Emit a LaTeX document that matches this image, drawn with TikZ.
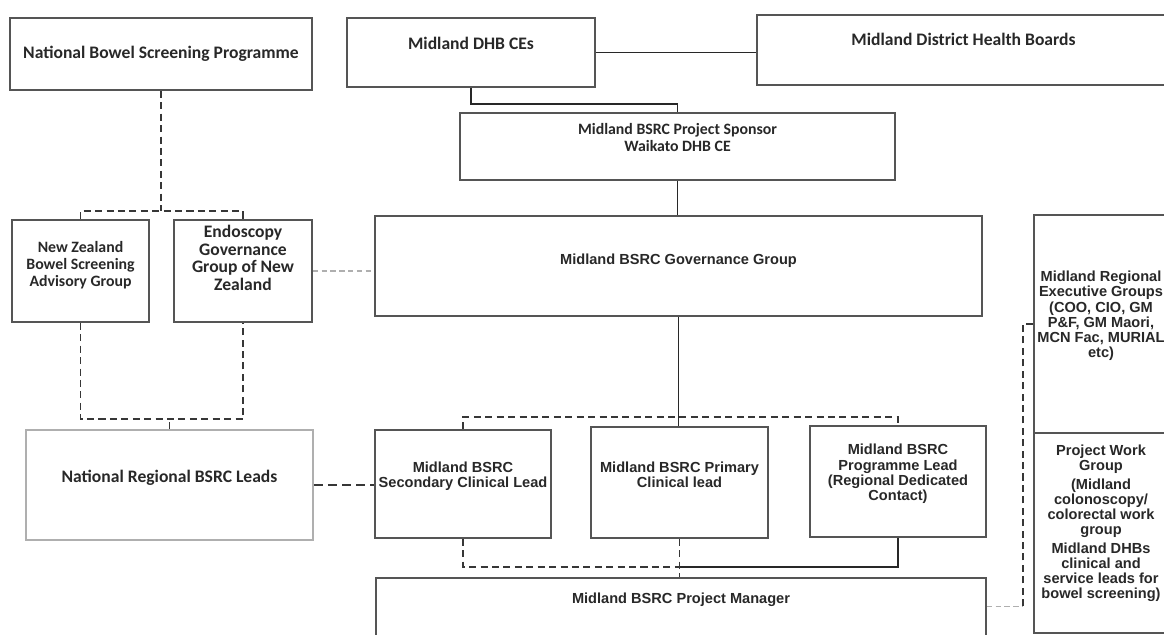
\documentclass[tikz,border=0pt]{standalone}
\usepackage{fontspec}
\setmainfont{Carlito}
\newfontfamily\arialfont{Liberation Sans}
\definecolor{inkgrey}{RGB}{40,40,40}
\definecolor{edgegrey}{RGB}{85,85,85}
\definecolor{dashgrey}{RGB}{55,55,55}
\definecolor{paleline}{RGB}{175,175,175}

\begin{document}
\begin{tikzpicture}[x=0.2mm, y=-0.2mm,
    calbox/.style={draw=edgegrey, line width=1pt, fill=white, text=inkgrey,
        align=center, inner sep=2pt, font=\bfseries\fontsize{10}{10}\selectfont},
    smallcal/.style={calbox, font=\bfseries\fontsize{9}{9.7}\selectfont},
    arialbox/.style={calbox, font=\arialfont\bfseries\fontsize{8.3}{8.6}\selectfont},
    lift/.style={text depth=#1},
    link/.style={draw=inkgrey, line width=1pt},
    dashlink/.style={draw=dashgrey, line width=1pt, dash pattern=on 4pt off 2.5pt},
    heavydash/.style={draw=dashgrey, line width=1.2pt, dash pattern=on 5pt off 3pt},
    palelink/.style={draw=paleline, line width=0.7pt, dash pattern=on 3pt off 2pt}
]
    \useasboundingbox (0,0) rectangle (1164,635);
    \clip (0,0) rectangle (1164,635);
    \fill[white] (0,0) rectangle (1164,635);

    \node[calbox, minimum width=60.4mm, minimum height=14.4mm] (nbsp) at (161,54) {National Bowel Screening Programme};
    \node[calbox, lift=10.5pt, minimum width=49.6mm, minimum height=13.8mm] (dhbce) at (471,52.5) {Midland DHB CEs};
    \node[calbox, lift=12.5pt, minimum width=82.6mm, minimum height=14mm] (mdhb) at (963.5,50) {Midland District Health Boards};
    \node[smallcal, lift=10.5pt, minimum width=87mm, minimum height=13.4mm] (sponsor) at (677.5,146.5) {Midland BSRC Project Sponsor\\Waikato DHB CE};

    \node[smallcal, lift=8.5pt, minimum width=27.4mm, minimum height=20.4mm] (nzbsag) at (80.5,271) {New Zealand\\Bowel Screening\\Advisory Group};
    \node[calbox, lift=15pt, minimum width=27.6mm, minimum height=20.4mm] (egg) at (243,271) {Endoscopy\\Governance\\Group of New\\Zealand};
    \node[arialbox, lift=8pt, minimum width=121.4mm, minimum height=20mm] (gov) at (678.5,266) {Midland BSRC Governance Group};
    \node[arialbox, lift=11pt, minimum width=26.8mm, minimum height=43.6mm] (exec) at (1101,324) {Midland Regional\\Executive Groups\\(COO, CIO, GM\\P\&F, GM Maori,\\MCN Fac, MURIAL\\etc)};
    \node[arialbox, lift=13pt, minimum width=26.8mm, minimum height=40mm] (pwg) at (1101,533) {Project Work\\Group\\[2pt](Midland\\colonoscopy/\\colorectal work\\group\\[2pt]Midland DHBs\\clinical and\\service leads for\\bowel screening)};

    \node[calbox, draw=paleline, lift=10pt, minimum width=57.4mm, minimum height=22mm] (nrbl) at (169.5,485) {National Regional BSRC Leads};
    \node[arialbox, lift=10.5pt, minimum width=34.8mm, minimum height=21.6mm] (sec) at (463,484) {Midland BSRC\\Secondary Clinical Lead};
    \node[arialbox, lift=9pt, minimum width=35.4mm, minimum height=22.2mm] (pri) at (679.5,482.5) {Midland BSRC Primary\\Clinical lead};
    \node[arialbox, lift=10.5pt, minimum width=35.2mm, minimum height=22.2mm] (prog) at (898,481.5) {Midland BSRC\\Programme Lead\\(Regional Dedicated\\Contact)};
    \node[arialbox, lift=15pt, minimum width=122mm, minimum height=13.4mm] (pm) at (681,611.5) {Midland BSRC Project Manager};

    \draw[link] (dhbce.east) -- (dhbce.east -| mdhb.west);
    \draw[link] (dhbce.south) -- ++(0,16) -| (sponsor.north);
    \draw[link] (sponsor.south) -- (sponsor.south |- gov.north);
    \draw[link] (gov.south) -- (gov.south |- pri.north);

    \draw[dashlink] (nbsp.south) -- ++(0,120) coordinate (nbspj);
    \draw[dashlink] (nzbsag.north) |- (nbspj) -| (egg.north);
    \draw[palelink] (egg.east) -- (egg.east -| gov.west);
    \draw[dashlink] (nrbl.north) -- ++(0,-10) coordinate (advj);
    \draw[dashlink] (nzbsag.south) |- (advj) -| (egg.south);
    \draw[heavydash] (nrbl.east) -- (nrbl.east -| sec.west);

    \draw[dashlink] (sec.north) -- ++(0,-12) -| (prog.north);
    \coordinate (pmj) at (679.5,567);
    \draw[dashlink] (sec.south) |- (pmj);
    \draw[dashlink] (pri.south) -- (pri.south |- pm.north);
    \draw[link] (prog.south) |- (pmj);
    \draw[palelink] (pm.1.5) -- ++(36,0) coordinate (sidej);
    \draw[dashlink] (sidej) |- (exec.west);
\end{tikzpicture}
\end{document}
